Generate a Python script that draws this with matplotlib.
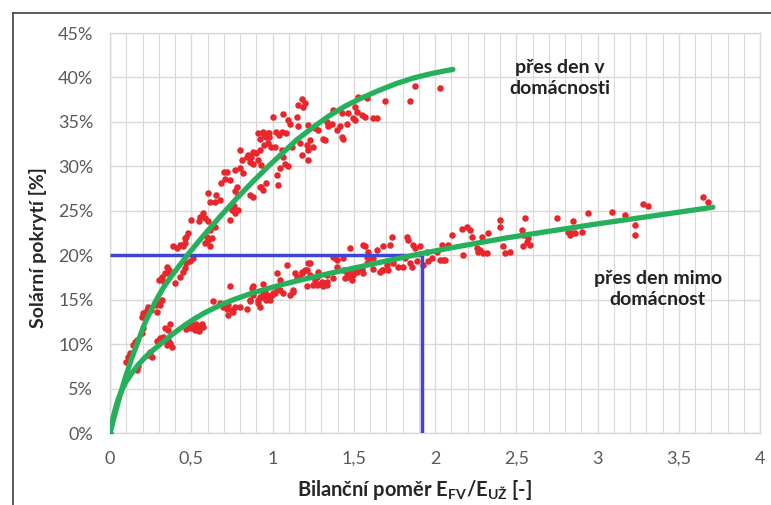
import matplotlib
matplotlib.use("Agg")
import matplotlib.pyplot as plt
from matplotlib.lines import Line2D
from matplotlib.ticker import MultipleLocator, FixedLocator

plt.rcParams["font.family"] = ["Lato", "DejaVu Sans"]
plt.rcParams["mathtext.fontset"] = "custom"
plt.rcParams["mathtext.rm"] = "Lato"
plt.rcParams["mathtext.bf"] = "Lato:bold"

# --- measured points: "přes den v domácnosti" (bilance [-], pokrytí [%]) ---
home_x = [0.00,
          0.10, 0.11, 0.12, 0.14, 0.155, 0.165, 0.195, 0.205,
          0.195, 0.205, 0.225, 0.235, 0.255, 0.28, 0.295, 0.32, 0.31, 0.29,
          0.30, 0.32, 0.34, 0.36, 0.35, 0.33, 0.37,
          0.40, 0.43, 0.45, 0.46, 0.47, 0.49, 0.51,
          0.39, 0.41, 0.43, 0.45, 0.46, 0.47, 0.48,
          0.585, 0.60, 0.615, 0.44, 0.46,
          0.50, 0.545, 0.555, 0.575, 0.585, 0.605,
          0.605, 0.615, 0.645, 0.655, 0.675,
          0.595, 0.625, 0.615, 0.645,
          0.685, 0.71, 0.72, 0.70, 0.74,
          0.75, 0.77, 0.74, 0.76, 0.79,
          0.77, 0.79, 0.78,
          0.80, 0.81, 0.84, 0.86, 0.88, 0.90,
          0.77, 0.80, 0.82,
          0.86, 0.88, 0.92, 0.94, 0.96,
          0.91, 0.92, 0.95, 0.96, 0.98,
          0.85, 0.87, 0.88, 0.92, 0.93, 0.93, 0.91,
          0.94, 0.95, 0.97, 0.98, 0.97, 0.99, 1.02, 1.04, 1.06, 1.08,
          1.005, 1.067, 1.097, 1.108, 1.149, 1.159, 1.18, 1.20, 1.19,
          1.015, 1.057, 1.067, 1.077, 1.046, 1.026, 1.036, 1.097, 1.118, 1.169,
          1.18, 1.21, 1.231, 1.22, 1.251, 1.22, 1.159, 1.22, 1.262, 1.282,
          1.313, 1.323,
          1.343, 1.364, 1.395, 1.415, 1.457, 1.467, 1.508, 1.518, 1.528, 1.333,
          1.374, 1.426, 1.436, 1.426,
          1.497, 1.508, 1.549, 1.569, 1.579, 1.621, 1.641, 1.692, 1.846, 1.877,
          2.031]
home_y = [0.0,
          8.0, 8.6, 9.0, 9.9, 10.2, 10.5, 11.2, 11.8,
          13.1, 13.5, 13.8, 14.2, 13.8, 14.4, 14.8, 15.0, 14.4, 13.6,
          17.2, 17.6, 18.0, 18.3, 18.7, 17.0, 17.8,
          16.9, 17.6, 18.1, 18.6, 19.1, 19.3, 19.7,
          21.0, 20.8, 21.1, 21.0, 21.4, 22.1, 22.5,
          21.4, 21.7, 21.0, 21.1, 21.9,
          24.0, 23.8, 24.3, 24.7, 24.2, 23.8,
          27.0, 26.0, 26.0, 26.8, 26.2,
          22.1, 21.9, 22.8, 23.2,
          28.1, 28.6, 29.4, 29.4, 28.5,
          25.1, 24.7, 24.0, 25.5, 25.1,
          27.2, 26.8, 27.7,
          31.8, 30.7, 31.1, 30.5, 30.3, 31.5,
          29.6, 29.8, 29.2,
          26.8, 26.6, 27.7, 27.3, 28.1,
          33.7, 33.1, 32.4, 33.3, 33.7,
          31.3, 31.1, 31.6, 31.8, 30.1, 27.7, 30.7,
          33.9, 33.5, 33.7, 33.3, 32.6, 32.2, 33.9, 33.5, 33.9, 33.7,
          35.6, 35.9, 35.2, 34.8, 35.6, 36.9, 37.6, 37.1, 36.7,
          32.2, 31.8, 31.1, 30.3, 29.8, 29.0, 27.9, 30.0, 32.2, 32.6,
          31.3, 32.4, 33.0, 31.8, 32.2, 30.7, 34.5, 34.6, 34.3, 34.1,
          33.1, 33.0,
          34.5, 34.8, 34.1, 34.5, 34.8, 36.0, 36.7, 36.1, 37.8, 35.0,
          36.3, 33.3, 33.1, 36.0,
          35.4, 35.2, 35.8, 35.6, 37.7, 35.4, 35.4, 37.3, 37.3, 39.0,
          38.8]

# --- measured points: "přes den mimo domácnost" ---
away_x = [0.164, 0.174, 0.236, 0.246, 0.257,
          0.287, 0.308, 0.328, 0.349, 0.369, 0.379, 0.359,
          0.338, 0.369, 0.359,
          0.46, 0.48, 0.50, 0.52, 0.54, 0.56, 0.51, 0.53, 0.49, 0.47, 0.55, 0.57,
          0.636, 0.677, 0.738, 0.718, 0.728, 0.759, 0.697, 0.749, 0.728, 0.769, 0.564,
          0.80, 0.84, 0.86, 0.88, 0.92, 0.94, 0.91, 0.96, 0.98, 1.015,
          1.026, 1.046, 1.067, 1.087, 1.108, 1.128, 1.149, 1.18, 1.21, 1.231,
          1.251, 1.272, 1.292, 1.313, 1.333, 1.374, 1.395, 1.436, 1.477, 1.518,
          1.559, 1.579, 1.62, 1.662, 1.682, 1.703, 1.744, 1.774, 1.374, 1.497,
          0.862, 0.872, 0.882, 0.913, 0.923, 0.933, 0.944, 0.954, 0.964, 0.974,
          0.985, 0.995, 1.005, 1.026, 1.046, 1.128, 1.138, 1.169, 1.18, 1.20,
          1.21, 1.221, 1.231, 1.262, 1.272, 1.282, 1.303, 1.323, 1.333,
          1.313, 1.333, 1.385, 1.395, 1.436, 1.446, 1.457, 1.467, 1.477, 1.487,
          1.508, 1.518, 1.549, 1.559, 1.569, 1.579, 1.59, 1.60, 1.62, 1.641,
          1.672, 1.682, 1.713, 1.723, 1.733, 1.744, 1.805, 1.815, 1.826, 1.836,
          1.846, 1.856, 1.867, 1.877, 1.887, 1.908, 1.928, 1.949, 1.959, 1.979,
          2.01, 2.031, 2.062, 2.082,
          2.041, 2.051, 2.103, 2.164, 2.174, 2.195, 2.215, 2.226, 2.257, 2.267,
          2.277, 2.287, 2.297, 2.328, 2.318, 2.40, 2.40, 2.421, 2.431, 2.462,
          2.533, 2.544, 2.554, 2.544, 2.564, 2.574, 2.585, 2.749, 2.82, 2.831,
          2.841, 2.851, 2.862, 2.903, 2.943, 3.087, 3.169, 3.231, 3.231, 3.282,
          3.313, 3.651, 3.682]
away_y = [7.1, 7.5, 8.8, 9.1, 8.6,
          10.3, 10.7, 10.8, 9.9, 10.1, 9.7, 10.5,
          11.8, 12.3, 11.6,
          12.1, 12.0, 11.8, 11.6, 11.8, 12.0, 12.1, 12.3, 12.5, 11.7, 11.5, 11.9,
          14.8, 14.6, 16.5, 14.0, 13.3, 13.6, 14.2, 13.8, 14.4, 14.2, 12.3,
          14.2, 14.0, 15.0, 16.5, 15.3, 15.9, 14.6, 15.0, 15.3, 15.7,
          18.0, 16.1, 15.7, 18.9, 15.5, 16.1, 17.6, 18.0, 18.3, 19.1,
          16.6, 17.6, 16.8, 16.5, 17.0, 17.4, 19.5, 18.3, 18.0, 18.1,
          18.0, 19.1, 18.5, 18.1, 18.3, 18.9, 19.1, 18.7, 19.8, 17.8,
          14.8, 16.3, 15.5, 15.0, 14.2, 15.3, 16.8, 15.9, 15.5, 15.2,
          15.0, 15.5, 15.7, 16.3, 17.2, 15.9, 18.0, 17.4, 18.1, 18.3,
          16.5, 19.1, 17.8, 17.2, 16.6, 18.1, 17.0, 16.8, 17.8,
          16.8, 16.6, 19.7, 18.7, 19.7, 17.4, 18.0, 17.6, 20.8, 17.2,
          18.1, 18.3, 18.5, 21.1, 21.0, 19.8, 20.4, 19.7, 19.7, 20.6,
          18.3, 21.0, 18.3, 21.1, 22.1, 19.5, 18.7, 19.7, 22.1, 21.7,
          19.1, 18.7, 21.1, 20.8, 19.3, 21.0, 18.9, 20.4, 19.3, 19.7,
          20.4, 19.5, 19.5, 21.1,
          21.1, 19.5, 22.3, 23.0, 20.0, 23.2, 22.8, 22.1, 20.8, 20.4,
          20.6, 22.1, 20.2, 22.5, 20.2, 24.0, 23.2, 21.0, 20.2, 20.4,
          22.8, 22.3, 24.2, 21.0, 21.5, 21.9, 21.1, 24.2, 22.6, 22.3,
          22.5, 23.8, 22.5, 22.6, 24.7, 24.9, 24.5, 23.4, 22.3, 25.8,
          25.5, 26.6, 26.0]

# --- trend curves ---
home_trend_x = [0, 0.03, 0.06, 0.09, 0.13, 0.17, 0.22, 0.28, 0.33, 0.38, 0.48,
                0.58, 0.68, 0.78, 0.88, 0.98, 1.08, 1.15, 1.25, 1.35, 1.45,
                1.55, 1.65, 1.76, 1.87, 1.97, 2.05, 2.11]
home_trend_y = [0, 2.1, 4.1, 6.0, 8.2, 10.2, 12.6, 14.8, 16.4, 17.7, 20.1,
                22.3, 24.4, 26.4, 28.3, 30.1, 31.8, 33.0, 34.4, 35.7, 36.8,
                37.7, 38.5, 39.3, 39.95, 40.4, 40.7, 40.9]

away_trend_x = [0, 0.015, 0.031, 0.05, 0.072, 0.10, 0.133, 0.17, 0.215, 0.26,
                0.318, 0.37, 0.42, 0.47, 0.52, 0.58, 0.646, 0.70, 0.76, 0.86,
                0.96, 1.06, 1.17, 1.35, 1.50, 1.70, 1.92, 2.09, 2.24, 2.44,
                2.65, 2.83, 2.97, 3.18, 3.39, 3.71]
away_trend_y = [0, 1.4, 2.6, 3.8, 4.8, 5.8, 6.7, 7.6, 8.5, 9.25,
                10.1, 10.9, 11.6, 12.25, 12.85, 13.5, 14.1, 14.55, 15.0, 15.65,
                16.2, 16.7, 17.2, 17.95, 18.55, 19.35, 20.2, 20.8, 21.3, 21.95,
                22.55, 23.05, 23.45, 24.0, 24.55, 25.4]

# --- read-off guide for 20 % coverage ---
target_cover = 20.0
target_ratio = 1.92

x_ticks = [0, 0.5, 1, 1.5, 2, 2.5, 3, 3.5, 4]
x_tick_labels = ["0", "0,5", "1", "1,5", "2", "2,5", "3", "3,5", "4"]
y_ticks = [0, 5, 10, 15, 20, 25, 30, 35, 40, 45]
y_tick_labels = [f"{v}%" for v in y_ticks]

RED = "#e8262b"
GREEN = "#27b05b"
BLUE = "#3d45d2"
GRID = "#d9d9d9"

fig = plt.figure(figsize=(7.71, 5.05), dpi=100)
ax = fig.add_axes([110 / 771, 1 - 433 / 505, 650 / 771, 400 / 505])

ax.scatter(home_x, home_y, s=22, color=RED, linewidths=0, zorder=3)
ax.scatter(away_x, away_y, s=22, color=RED, linewidths=0, zorder=3)

ax.plot([0, target_ratio], [target_cover, target_cover], color=BLUE, lw=2.5,
        solid_capstyle="butt", zorder=4)
ax.plot([target_ratio, target_ratio], [0, target_cover], color=BLUE, lw=2.5,
        solid_capstyle="butt", zorder=4)

ax.plot(home_trend_x, home_trend_y, color=GREEN, lw=3.8, solid_capstyle="round",
        solid_joinstyle="round", zorder=5)
ax.plot(away_trend_x, away_trend_y, color=GREEN, lw=3.8, solid_capstyle="round",
        solid_joinstyle="round", zorder=5)

ax.set_xlim(0, 4)
ax.set_ylim(0, 45)
ax.xaxis.set_major_locator(FixedLocator(x_ticks))
ax.set_xticklabels(x_tick_labels)
ax.xaxis.set_minor_locator(MultipleLocator(0.1))
ax.yaxis.set_major_locator(FixedLocator(y_ticks))
ax.set_yticklabels(y_tick_labels)

ax.grid(True, which="major", color=GRID, lw=1.0, zorder=0)
ax.grid(True, which="minor", axis="x", color=GRID, lw=0.8, zorder=0)
ax.set_axisbelow(True)
for sp in ax.spines.values():
    sp.set_color(GRID)
    sp.set_linewidth(1.0)

ax.tick_params(which="both", length=0)
ax.tick_params(axis="x", pad=13, labelsize=13, labelcolor="#595959")
ax.tick_params(axis="y", pad=12, labelsize=13, labelcolor="#595959")

ax.text(2.77, 39.9, "přes den v\ndomácnosti", ha="center", va="center",
        fontsize=14, fontweight="bold", color="#222222", linespacing=1.3)
ax.text(3.37, 16.2, "přes den mimo\ndomácnost", ha="center", va="center",
        fontsize=14, fontweight="bold", color="#222222", linespacing=1.3)

fig.text(415 / 771, 1 - 490 / 505,
         r"Bilanční poměr E$_\mathbf{FV}$/E$_\mathbf{UŽ}$ [-]",
         ha="center", va="center", fontsize=14.5, fontweight="bold",
         color="#262626")
fig.text(38 / 771, 1 - 248 / 505, "Solární pokrytí [%]", rotation=90,
         ha="center", va="center", fontsize=14, fontweight="bold",
         color="#262626")

# outer frame (top and left edges)
fig.add_artist(Line2D([12.7 / 771, 1.0], [1 - 12.7 / 505, 1 - 12.7 / 505],
                      transform=fig.transFigure, color="#4d4d4d", lw=1.3))
fig.add_artist(Line2D([12.7 / 771, 12.7 / 771], [0.0, 1 - 12.7 / 505],
                      transform=fig.transFigure, color="#4d4d4d", lw=1.3))

fig.savefig("out.png", dpi=100)
